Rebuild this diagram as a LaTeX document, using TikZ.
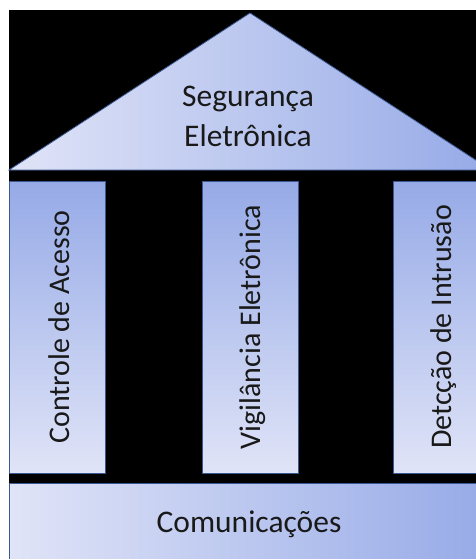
\documentclass[tikz,border=0pt]{standalone}
\usepackage{fontspec}
\setmainfont{Carlito}
\usepackage{tikz}

\definecolor{paleblue}{RGB}{224,228,247}
\definecolor{midblue}{RGB}{150,170,231}
\definecolor{edgeblue}{RGB}{58,88,145}

\tikzset{
  part/.style={draw=edgeblue, line width=0.8pt},
  title/.style={font=\fontsize{31.5}{40}\selectfont, text=black!90},
  pillartext/.style={font=\fontsize{30}{36}\selectfont, text=black!90, rotate=90}
}

\begin{document}
\begin{tikzpicture}[x=1pt,y=-1pt]
\useasboundingbox (0,0) rectangle (476,559);
\clip (0,0) rectangle (476,559);
\fill[white] (0,0) rectangle (476,559);
\fill[black] (9,10) rectangle (476,559);
% roof
\shadedraw[part, left color=paleblue, right color=midblue] (9,170) -- (250,13) -- (491,170) -- cycle;
\node[title, align=center] (roof) at (248,116.5) {Segurança\\Eletrônica};
% pillars
\foreach \x/\name/\txt in {9/acesso/Controle de Acesso, 202/vigilancia/Vigilância Eletrônica, 393/intrusao/Detcção de Intrusão}
  {
   \shadedraw[part, top color=midblue, bottom color=paleblue] (\x,181) rectangle (\x+96,473);
   \node[pillartext] (\name) at (\x+50.5,327) {\txt};
  }
% base
\shadedraw[part, left color=paleblue, right color=midblue] (9,483) rectangle (491,575);
\node[title, anchor=base] (comms) at (249,532) {Comunicações};
\end{tikzpicture}
\end{document}
